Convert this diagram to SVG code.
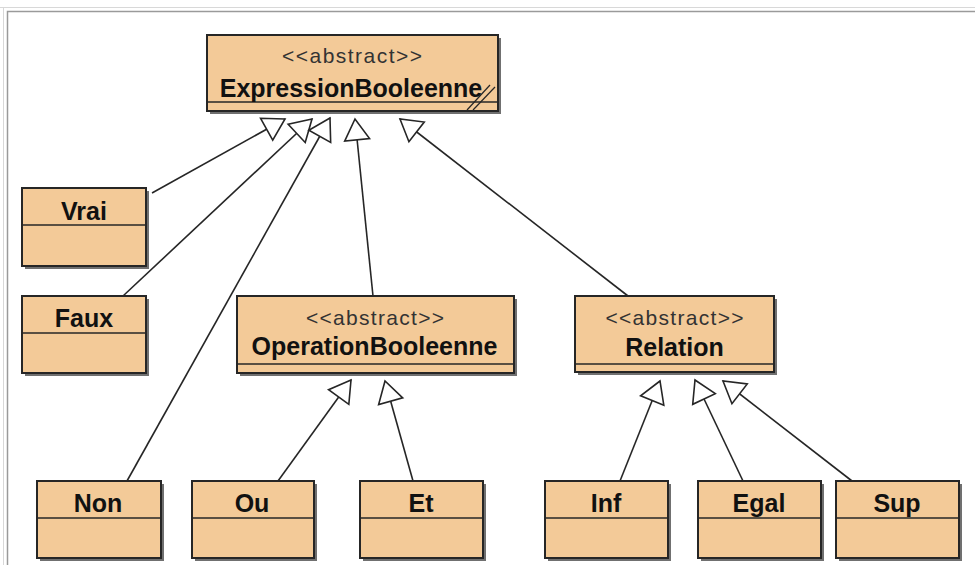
<svg xmlns="http://www.w3.org/2000/svg" width="975" height="565" viewBox="0 0 975 565">
  <style>
    .box { fill: #F3CA98; stroke: #262626; stroke-width: 2; }
    .shadow { fill: #707070; }
    .div { stroke: #262626; stroke-width: 1.5; }
    .name { font-family: "Liberation Sans", Arial, sans-serif; font-weight: bold; font-size: 25px; fill: #111; text-anchor: middle; }
    .stereo { font-family: "Liberation Sans", Arial, sans-serif; font-size: 21px; fill: #333; text-anchor: middle; }
    .conn { stroke: #262626; stroke-width: 1.6; fill: none; marker-end: url(#gen); }
  </style>
  <defs>
    <!-- hollow generalization triangle, tip at the origin -->
    <marker id="gen" markerUnits="userSpaceOnUse" viewBox="-24 -16 27 32" markerWidth="27" markerHeight="32" refX="0" refY="0" orient="auto">
      <path d="M0,0 L-21,-12.5 L-21,12.5 Z" fill="#fff" stroke="#262626" stroke-width="1.6" stroke-linejoin="miter"/>
    </marker>
  </defs>

  <rect width="975" height="565" fill="#fff"/>
  <!-- window frame -->
  <path d="M0,7.5 H975 M3.5,7.5 V565" stroke="#d8d8d8" stroke-width="1" fill="none"/>
  <path d="M7.5,565 V11.5 H975" stroke="#9a9a9a" stroke-width="1.5" fill="none"/>

  <g id="connectors">
    <line class="conn" x1="152" y1="193" x2="285" y2="119"/>
    <line class="conn" x1="123" y1="296" x2="312" y2="119"/>
    <line class="conn" x1="127" y1="481" x2="330" y2="118"/>
    <line class="conn" x1="373" y1="296" x2="355" y2="119"/>
    <line class="conn" x1="628" y1="296" x2="400" y2="119"/>
    <line class="conn" x1="278" y1="481" x2="351" y2="380"/>
    <line class="conn" x1="413" y1="481" x2="385" y2="381"/>
    <line class="conn" x1="620" y1="481" x2="660" y2="381"/>
    <line class="conn" x1="743" y1="481" x2="695" y2="380"/>
    <line class="conn" x1="852" y1="481" x2="723" y2="381"/>
  </g>

  <g id="ExpressionBooleenne">
    <rect class="shadow" x="210" y="38" width="291" height="76"/>
    <rect class="box" x="207" y="35" width="291" height="76" stroke-width="3"/>
    <line class="div" x1="207" y1="102" x2="498" y2="102"/>
    <line x1="467" y1="110" x2="490" y2="85" stroke="#262626" stroke-width="1.2"/>
    <line x1="473" y1="110" x2="495" y2="87" stroke="#262626" stroke-width="1.2"/>
    <text class="stereo" x="352" y="63" textLength="140" lengthAdjust="spacing">&lt;&lt;abstract&gt;&gt;</text>
    <text class="name" x="351" y="97">ExpressionBooleenne</text>
  </g>

  <g id="Vrai">
    <rect class="shadow" x="25" y="191" width="124" height="78"/>
    <rect class="box" x="22" y="188" width="124" height="78"/>
    <line class="div" x1="22" y1="225" x2="146" y2="225"/>
    <text class="name" x="84" y="220">Vrai</text>
  </g>

  <g id="Faux">
    <rect class="shadow" x="25" y="299" width="124" height="77"/>
    <rect class="box" x="22" y="296" width="124" height="77"/>
    <line class="div" x1="22" y1="333" x2="146" y2="333"/>
    <text class="name" x="84" y="327">Faux</text>
  </g>

  <g id="OperationBooleenne">
    <rect class="shadow" x="240" y="299" width="277" height="77"/>
    <rect class="box" x="237" y="296" width="277" height="77"/>
    <line class="div" x1="237" y1="364" x2="514" y2="364"/>
    <text class="stereo" x="375" y="325" textLength="138" lengthAdjust="spacing">&lt;&lt;abstract&gt;&gt;</text>
    <text class="name" x="374.5" y="355">OperationBooleenne</text>
  </g>

  <g id="Relation">
    <rect class="shadow" x="578" y="299" width="199" height="76"/>
    <rect class="box" x="575" y="296" width="199" height="76"/>
    <line class="div" x1="575" y1="364" x2="774" y2="364"/>
    <text class="stereo" x="674.5" y="325" textLength="138" lengthAdjust="spacing">&lt;&lt;abstract&gt;&gt;</text>
    <text class="name" x="674.5" y="356">Relation</text>
  </g>

  <g id="Non">
    <rect class="shadow" x="40" y="484" width="124" height="77"/>
    <rect class="box" x="37" y="481" width="124" height="77"/>
    <line class="div" x1="37" y1="518" x2="161" y2="518"/>
    <text class="name" x="98" y="512">Non</text>
  </g>

  <g id="Ou">
    <rect class="shadow" x="195" y="484" width="122" height="77"/>
    <rect class="box" x="192" y="481" width="122" height="77"/>
    <line class="div" x1="192" y1="518" x2="314" y2="518"/>
    <text class="name" x="252" y="512">Ou</text>
  </g>

  <g id="Et">
    <rect class="shadow" x="363" y="484" width="123" height="77"/>
    <rect class="box" x="360" y="481" width="123" height="77"/>
    <line class="div" x1="360" y1="518" x2="483" y2="518"/>
    <text class="name" x="421" y="512">Et</text>
  </g>

  <g id="Inf">
    <rect class="shadow" x="548" y="484" width="123" height="77"/>
    <rect class="box" x="545" y="481" width="123" height="77"/>
    <line class="div" x1="545" y1="518" x2="668" y2="518"/>
    <text class="name" x="606" y="512">Inf</text>
  </g>

  <g id="Egal">
    <rect class="shadow" x="701" y="484" width="123" height="77"/>
    <rect class="box" x="698" y="481" width="123" height="77"/>
    <line class="div" x1="698" y1="518" x2="821" y2="518"/>
    <text class="name" x="759" y="512">Egal</text>
  </g>

  <g id="Sup">
    <rect class="shadow" x="839" y="484" width="123" height="77"/>
    <rect class="box" x="836" y="481" width="123" height="77"/>
    <line class="div" x1="836" y1="518" x2="959" y2="518"/>
    <text class="name" x="897" y="512">Sup</text>
  </g>
</svg>
